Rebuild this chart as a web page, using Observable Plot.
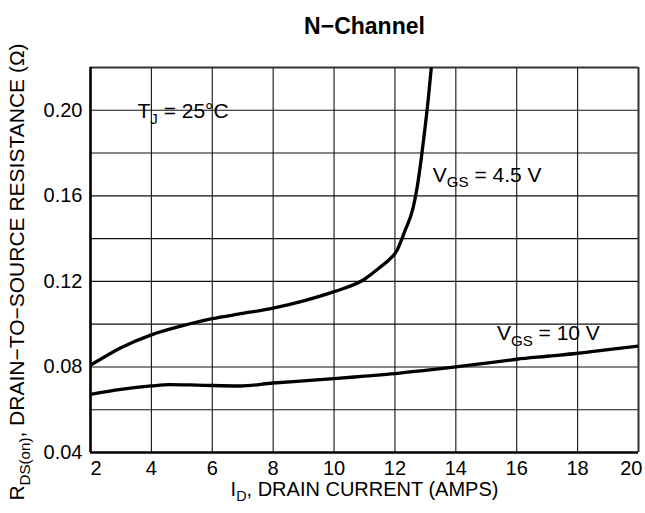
<!DOCTYPE html>
<html>
<head>
<meta charset="utf-8">
<script src="https://cdn.jsdelivr.net/npm/d3@7"></script>
<script src="https://cdn.jsdelivr.net/npm/@observablehq/plot@0.6"></script>
<style>
  html, body { margin: 0; padding: 0; background: white; }
</style>
</head>
<body>
<script>
// ---- data ----
const idVgs45  = [2, 3, 4, 5, 6, 7, 8, 9, 10, 11, 11.5, 11.8, 12.06, 12.33, 12.6, 12.73, 12.87, 12.99, 13.1, 13.19];
const rdsVgs45 = [0.0808, 0.0890, 0.0950, 0.0992, 0.1026, 0.1050, 0.1075, 0.1109, 0.1152, 0.1210, 0.1265, 0.1300, 0.1343, 0.1437, 0.1546, 0.1640, 0.1780, 0.1920, 0.2060, 0.2193];

const idVgs10  = [2, 3, 4, 4.6, 5.5, 6.9, 8, 9, 10, 11, 12, 13, 14, 15, 16, 17, 18, 19, 20];
const rdsVgs10 = [0.0672, 0.0695, 0.0711, 0.0717, 0.0715, 0.0711, 0.0725, 0.0735, 0.0745, 0.0757, 0.0769, 0.0784, 0.0800, 0.0818, 0.0836, 0.0850, 0.0864, 0.0881, 0.0898];

const xTickValues = [2, 4, 6, 8, 10, 12, 14, 16, 18, 20];
const yTickValues = [0.04, 0.08, 0.12, 0.16, 0.20];
const xGridValues = [4, 6, 8, 10, 12, 14, 16, 18];
const yGridValues = [0.06, 0.08, 0.10, 0.12, 0.14, 0.16, 0.18, 0.20];

const annoText = ["T_{J} = 25°C", "V_{GS} = 4.5 V", "V_{GS} = 10 V"];
const annoX    = [5.04, 15.03, 17.04];
const annoY    = [0.1995, 0.1698, 0.0956];

const chartTitle = "N\u2212Channel";
const xLabel = "I_{D}, DRAIN CURRENT (AMPS)";
const yLabel = "R_{DS(on)}, DRAIN\u2212TO\u2212SOURCE RESISTANCE (\u03A9)";

// ---- tables ----
const curves = [
  ...idVgs45.map((x, i) => ({id: x, r: rdsVgs45[i], s: "4.5"})),
  ...idVgs10.map((x, i) => ({id: x, r: rdsVgs10[i], s: "10"}))
];
const annos = annoText.map((t, i) => ({t, x: annoX[i], y: annoY[i]}));

const font = "'Liberation Sans', Arial, Helvetica, sans-serif";

const chart = Plot.plot({
  width: 645,
  height: 513,
  marginLeft: 90,
  marginRight: 7,
  marginTop: 67,
  marginBottom: 61,
  x: {domain: [2, 20]},
  y: {domain: [0.04, 0.22]},
  style: {fontFamily: font, fontSize: "20px", background: "white", color: "black"},
  marks: [
    Plot.ruleX(xGridValues, {stroke: "#111", strokeWidth: 1.1}),
    Plot.ruleY(yGridValues, {stroke: "#111", strokeWidth: 1.1}),
    Plot.ruleX([20], {stroke: "#333", strokeWidth: 2}),
    Plot.ruleY([0.22], {stroke: "#333", strokeWidth: 2}),
    Plot.ruleX([2], {stroke: "black", strokeWidth: 2.6}),
    Plot.ruleY([0.04], {stroke: "black", strokeWidth: 2.6}),
    Plot.text(annos, {x: "x", y: "y", text: "t", fontSize: 21, fill: "black", ariaLabel: "annotation"}),
    Plot.line(curves, {x: "id", y: "r", z: "s", stroke: "black", strokeWidth: 3.3, curve: "monotone-x", clip: true}),
    Plot.axisY({ticks: yTickValues, tickFormat: d => d.toFixed(2), tickSize: 0, tickPadding: 8, fontSize: 20, label: null}),
    Plot.axisX({ticks: xTickValues.slice(1, -1), tickSize: 0, tickPadding: 8, fontSize: 20, label: null}),
    Plot.axisX({ticks: xTickValues.slice(0, 1), tickSize: 0, tickPadding: 8, fontSize: 20, label: null, textAnchor: "start", dx: 0}),
    Plot.axisX({ticks: xTickValues.slice(-1), tickSize: 0, tickPadding: 8, fontSize: 20, label: null, textAnchor: "end", dx: 4}),
    Plot.text([chartTitle], {text: d => d, frameAnchor: "top", dy: -50, fontWeight: "bold", fontSize: 23, textAnchor: "middle"}),
    Plot.text([xLabel], {text: d => d, frameAnchor: "bottom", dy: 43, fontSize: 20, textAnchor: "middle"}),
    Plot.text([yLabel], {text: d => d, frameAnchor: "left", rotate: -90, dx: -73, dy: 12, fontSize: 21, textAnchor: "middle", lineAnchor: "middle"})
  ]
});

document.body.append(chart);

// ---- subscripts: turn "_{...}" into lowered, smaller tspans ----
const SVGNS = "http://www.w3.org/2000/svg";
function richify(textEl) {
  const s = textEl.textContent;
  if (!s.includes("_{")) return;
  const fs = parseFloat(getComputedStyle(textEl).fontSize) || 20;
  const subFs = fs * 0.72, shift = fs * 0.28;
  const parts = [];
  const re = /_\{([^}]*)\}/g;
  let last = 0, m;
  while ((m = re.exec(s))) {
    if (m.index > last) parts.push({t: s.slice(last, m.index), sub: false});
    parts.push({t: m[1], sub: true});
    last = re.lastIndex;
  }
  if (last < s.length) parts.push({t: s.slice(last), sub: false});
  textEl.textContent = "";
  let down = false;
  for (const p of parts) {
    const ts = document.createElementNS(SVGNS, "tspan");
    ts.textContent = p.t;
    if (p.sub) {
      ts.setAttribute("font-size", subFs);
      if (!down) { ts.setAttribute("dy", shift); down = true; }
    } else if (down) {
      ts.setAttribute("dy", -shift); down = false;
    }
    textEl.appendChild(ts);
  }
  textEl.style.whiteSpace = "pre";
}
chart.querySelectorAll("text").forEach(richify);

// ---- white boxes behind the curve labels ----
chart.querySelectorAll('g[aria-label="annotation"] text').forEach(t => {
  const bb = t.getBBox();
  const padX = 7, padY = 5;
  const r = document.createElementNS(SVGNS, "rect");
  r.setAttribute("x", bb.x - padX);
  r.setAttribute("y", bb.y - padY);
  r.setAttribute("width", bb.width + 2 * padX);
  r.setAttribute("height", bb.height + 2 * padY);
  r.setAttribute("fill", "white");
  r.setAttribute("stroke", "none");
  const tr = t.getAttribute("transform");
  if (tr) r.setAttribute("transform", tr);
  t.parentNode.insertBefore(r, t);
});
</script>
</body>
</html>
